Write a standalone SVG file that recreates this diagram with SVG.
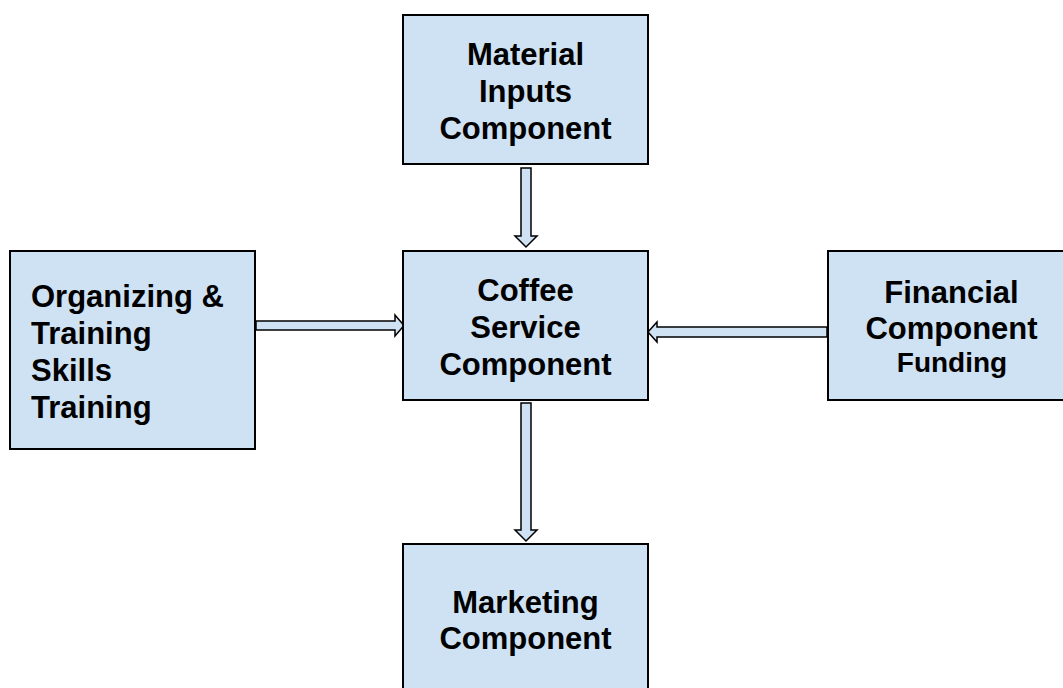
<svg xmlns="http://www.w3.org/2000/svg" width="1063" height="688" viewBox="0 0 1063 688">
<style>
.box{fill:#cfe2f3;stroke:#000;stroke-width:2}
.arr{fill:#cfe2f3;stroke:#000;stroke-width:1.5;stroke-linejoin:miter}
.t{font-family:"Liberation Sans",Arial,sans-serif;font-weight:bold;font-size:31px;fill:#000}
.c{text-anchor:middle}
</style>
<rect width="1063" height="688" fill="#fff"/>
<g id="connectors">
<polygon class="arr" points="521,168 531,168 531,236 537,236 526,247 515,236 521,236"/>
<polygon class="arr" points="256,321 395,321 395,315 404,325.5 395,336 395,330 256,330"/>
<polygon class="arr" points="827,327 657,327 657,322 648,332 657,342 657,337 827,337"/>
<polygon class="arr" points="521,403 531,403 531,530 537,530 526,541 515,530 521,530"/>
</g>
<g id="material">
<rect class="box" x="403" y="15" width="245" height="149"/>
<text class="t c" x="525.5" y="65">Material</text>
<text class="t c" x="525.5" y="102">Inputs</text>
<text class="t c" x="525.5" y="139">Component</text>
</g>
<g id="coffee">
<rect class="box" x="403" y="251" width="245" height="149"/>
<text class="t c" x="525.5" y="301">Coffee</text>
<text class="t c" x="525.5" y="338">Service</text>
<text class="t c" x="525.5" y="375">Component</text>
</g>
<g id="organizing">
<rect class="box" x="10" y="251" width="245" height="198"/>
<text class="t" x="31" y="307">Organizing &amp;</text>
<text class="t" x="31" y="344">Training</text>
<text class="t" x="31" y="381">Skills</text>
<text class="t" x="31" y="418">Training</text>
</g>
<g id="financial">
<rect class="box" x="828" y="251" width="245" height="149"/>
<text class="t c" x="951.5" y="303">Financial</text>
<text class="t c" x="951.5" y="339">Component</text>
<text class="t c" x="952" y="372" style="font-size:28px">Funding</text>
</g>
<g id="marketing">
<rect class="box" x="403" y="544" width="245" height="160"/>
<text class="t c" x="525.5" y="613">Marketing</text>
<text class="t c" x="525.5" y="649">Component</text>
</g>
</svg>
